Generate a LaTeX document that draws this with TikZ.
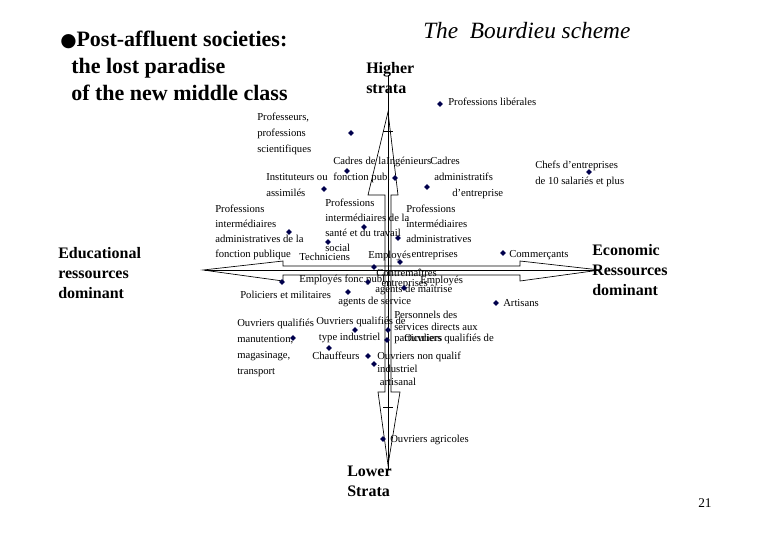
\documentclass[tikz,border=0pt]{standalone}
\usepackage{fontspec}
\setmainfont{Liberation Serif}
\newfontfamily\symf{DejaVu Sans}
\begin{document}
\begin{tikzpicture}[x=0.75pt,y=-0.75pt,
 lab/.style={anchor=north west,inner sep=0pt,font=\fontsize{8}{12}\selectfont,align=left},
 big/.style={anchor=north west,inner sep=0pt,font=\fontsize{12}{15}\selectfont\bfseries,align=left},
 dotm/.style={fill=blue!30!black,inner sep=0pt,minimum size=3pt,draw=none,shape=rectangle,rotate=45},
 ax/.style={draw=black,line width=0.5pt}]
\useasboundingbox (0,0) rectangle (780,540);
% vertical double arrow
\draw[ax] (388,112) -- (398,195) -- (391,195) -- (391,392) -- (400,392) -- (388,465) -- (378,392) -- (385,392) -- (385,195) -- (368,195) -- cycle;
\coordinate (vt) at (388,75); \coordinate (vb) at (388,470);
\draw[ax] (vt) -- (vb);
\draw[ax] (383,131) -- (393,131); \draw[ax] (383,407) -- (393,407);
% horizontal double arrow
\draw[ax] (203,270) -- (283,261) -- (283,266) -- (520,266) -- (520,261) -- (600,270) -- (520,281) -- (520,275) -- (283,275) -- (283,281) -- cycle;
\coordinate (hl) at (205,270); \coordinate (hr) at (600,270);
\draw[ax] (hl) -- (hr);
% titles
\node[anchor=north west,inner sep=0pt,font=\fontsize{17.5}{20}\selectfont\itshape] (title) at (423,22) {The\ \ Bourdieu scheme};
\node[big,font=\fontsize{16.5}{20.3}\selectfont\bfseries] (post) at (60,31) {{\symf\fontsize{14}{12}\selectfont ●}Post-affluent societies:\\\ \ the lost paradise\\\ \ of the new middle class};
\node[big] (hi) at (366,62) {Higher\\strata};
\node[big] (lo) at (347,466) {Lower\\Strata};
\node[big] (edu) at (58,247) {Educational\\ressources\\dominant};
\node[big] (eco) at (592,244) {Economic\\Ressources\\dominant};
\node[anchor=north west,inner sep=0pt,font=\fontsize{10}{10}\selectfont] (pg) at (698,498) {21};
% labels
\node[lab] (l1) at (448,98) {Professions libérales};
\node[lab] (l2) at (257,113) {Professeurs,\\professions\\scientifiques};
\node[lab] (l3) at (333,157) {Cadres de la\\fonction pub.};
\node[lab] (l4) at (386,157) {Ingénieurs};
\node[lab] (l5) at (430,157) {Cadres};
\node[lab] (l5b) at (434,173) {administratifs};
\node[lab] (l5c) at (452,189) {d'entreprise};
\node[lab] (l6) at (266,173) {Instituteurs ou\\assimilés};
\node[lab] (l7) at (535,161) {Chefs d'entreprises\\de 10 salariés et plus};
\node[lab,font=\fontsize{8}{11.2}\selectfont] (l8) at (325,199) {Professions\\intermédiaires de la\\santé et du travail\\social};
\node[lab,font=\fontsize{8}{11.2}\selectfont] (l9) at (406,205) {Professions\\intermédiaires\\administratives\\\ \ entreprises};
\node[lab,font=\fontsize{8}{11.2}\selectfont] (l10) at (215,205) {Professions\\intermédiaires\\administratives de la\\fonction publique};
\node[lab] (l11) at (299,253) {Techniciens};
\node[lab] (l12) at (368,251) {Employés};
\node[lab] (l13) at (509,250) {Commerçants};
\node[lab] (l14) at (299,275) {Employés fonc.publ.};
\node[lab,font=\fontsize{8}{7.5}\selectfont] (l15) at (376,269) {Contremaîtres\\\ \ entreprises};
\node[lab] (l16) at (420,276) {Employés};
\node[lab] (l17) at (375,285) {agents de maîtrise};
\node[lab] (l18) at (240,291) {Policiers et militaires};
\node[lab] (l19) at (338,297) {agents de service};
\node[lab] (l20) at (503,299) {Artisans};
\node[lab,font=\fontsize{8}{8.5}\selectfont] (l21) at (394,311) {Personnels des\\services directs aux\\particuliers};
\node[lab] (l22) at (316,317) {Ouvriers qualifiés de\\\ type industriel};
\node[lab] (l23) at (237,319) {Ouvriers qualifiés\\manutention,\\magasinage,\\transport};
\node[lab] (l24) at (404,334) {Ouvriers qualifiés de};
\node[lab] (l25) at (312,352) {Chauffeurs};
\node[lab,font=\fontsize{8}{9.5}\selectfont] (l26) at (377,352) {Ouvriers non qualif\\industriel\\\ artisanal};
\node[lab] (l27) at (390,435) {Ouvriers agricoles};
% dots
\foreach \p [count=\i] in {(440,104),(351,133),(347,171),(395,178),(427,187),(324,189),(589,172),(364,227),(398,238),(289,232),(328,242),(374,267),(503,253),(282,282),(368,282),(404,288),(348,292),(496,303),(355,330),(293,338),(388,330),(387,340),(329,348),(368,356),(374,364),(383,439),(400,262)}
  \node[dotm] (d\i) at \p {};
\end{tikzpicture}
\end{document}
